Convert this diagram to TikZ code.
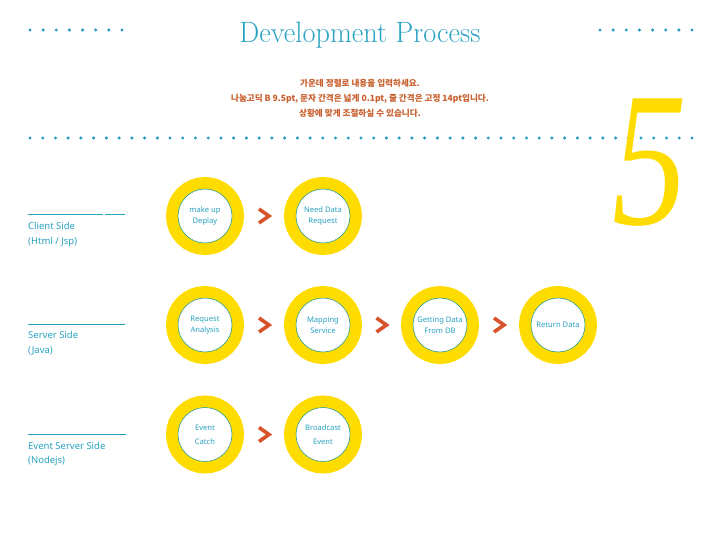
\documentclass[tikz,border=0pt]{standalone}
\usepackage{fontspec}
\newfontfamily\lab{Noto Sans}
\newfontfamily\krfont{Noto Sans CJK KR}
\newfontfamily\fivefont{Liberation Serif}
\usetikzlibrary{calc}
\definecolor{titteal}{HTML}{2BA3C4}
\definecolor{dotcol}{HTML}{2A9CC4}
\definecolor{labteal}{HTML}{27A2C0}
\definecolor{ringteal}{HTML}{2E9C8C}
\definecolor{ringyellow}{HTML}{FFDC00}
\definecolor{chevcol}{HTML}{D8532B}
\definecolor{krcol}{HTML}{C8602E}
\tikzset{
  stage/.style={circle, minimum size=54pt, inner sep=0pt, draw=ringteal, line width=0.6pt,
    fill=white, preaction={draw=ringyellow, line width=24pt},
    text=labteal, font=\lab\fontsize{7.6}{10.5}\selectfont, align=center},
  stagewide/.style={stage, font=\lab\fontsize{7.6}{14}\selectfont},
  rowlab/.style={inner sep=0pt, text=labteal, font=\lab\fontsize{9.5}{12}\selectfont},
  rowline/.style={draw=labteal, line width=0.7pt},
  kr/.style={inner sep=0pt, text=krcol, font=\krfont\bfseries\fontsize{8.6}{10}\selectfont},
  chev/.pic={\draw[chevcol, line width=3.6pt, line cap=butt, line join=miter] (-5,-7) -- (5,0) -- (-5,7);}
}
\begin{document}
\begin{tikzpicture}[x=1pt,y=-1pt]
\useasboundingbox[fill=white] (0,0) rectangle (720,540);
% dotted rules
\foreach \i in {0,...,7} {
  \fill[dotcol] (30+\i*13.14,30) circle (1.7);
  \fill[dotcol] (600+\i*13.14,30) circle (1.7);
}
\foreach \i in {0,...,52} {
  \fill[dotcol] (30+\i*12.73,138) circle (1.7);
}
% title
\node[inner sep=0pt, anchor=base, text=titteal, font=\fontsize{29.5}{30}\selectfont] (title) at (360,43) {\scalebox{0.96}[1]{Development Process}};
% korean text
\node[kr, anchor=base] (k1) at (360,86.3) {가운데 정렬로 내용을 입력하세요.};
\node[kr, anchor=base] (k2) at (360,102) {나눔고딕 B 9.5pt, 문자 간격은 넓게 0.1pt, 줄 간격은 고정 14pt입니다.};
\node[kr, anchor=base] (k3) at (360,117) {상황에 맞게 조절하실 수 있습니다.};
% big five
\node[inner sep=0pt, anchor=base, text=ringyellow, font=\fivefont\itshape\fontsize{192}{192}\selectfont] (five) at (650,225) {\scalebox{0.78}[1]{5}};
% row labels
\draw[rowline] (28,214) -- (103,214);
\draw[rowline] (105,214) -- (125,214);
\node[rowlab, anchor=base west] (cl1) at (28,229.5) {Client Side};
\node[rowlab, anchor=base west] (cl2) at (28,244) {(Html / Jsp)};
\draw[rowline] (28,324) -- (125,324);
\node[rowlab, anchor=base west] (sv1) at (28,338.5) {Server Side};
\node[rowlab, anchor=base west] (sv2) at (28,353) {(Java)};
\draw[rowline] (28,434) -- (126,434);
\node[rowlab, anchor=base west] (ev1) at (28,449) {Event Server Side};
\node[rowlab, anchor=base west] (ev2) at (28,463.5) {(Nodejs)};
% stages
\node[stage] (a1) at (205,216) {make up\\Deplay};
\node[stage] (a2) at (323,216) {Need Data\\Request};
\node[stage] (b1) at (205,325) {Request\\Analysis};
\node[stage] (b2) at (323,325) {Mapping\\Service};
\node[stage] (b3) at (440,325) {Getting Data\\From DB};
\node[stage] (b4) at (558,325) {Return Data};
\node[stagewide] (c1) at (205,434.5) {Event\\Catch};
\node[stagewide] (c2) at (323,434.5) {Broadcast\\Event};
% chevrons
\pic at ($(a1)!0.5!(a2)$) {chev};
\pic at ($(b1)!0.5!(b2)$) {chev};
\pic at ($(b2)!0.5!(b3)$) {chev};
\pic at ($(b3)!0.5!(b4)$) {chev};
\pic at ($(c1)!0.5!(c2)$) {chev};
\end{tikzpicture}
\end{document}
